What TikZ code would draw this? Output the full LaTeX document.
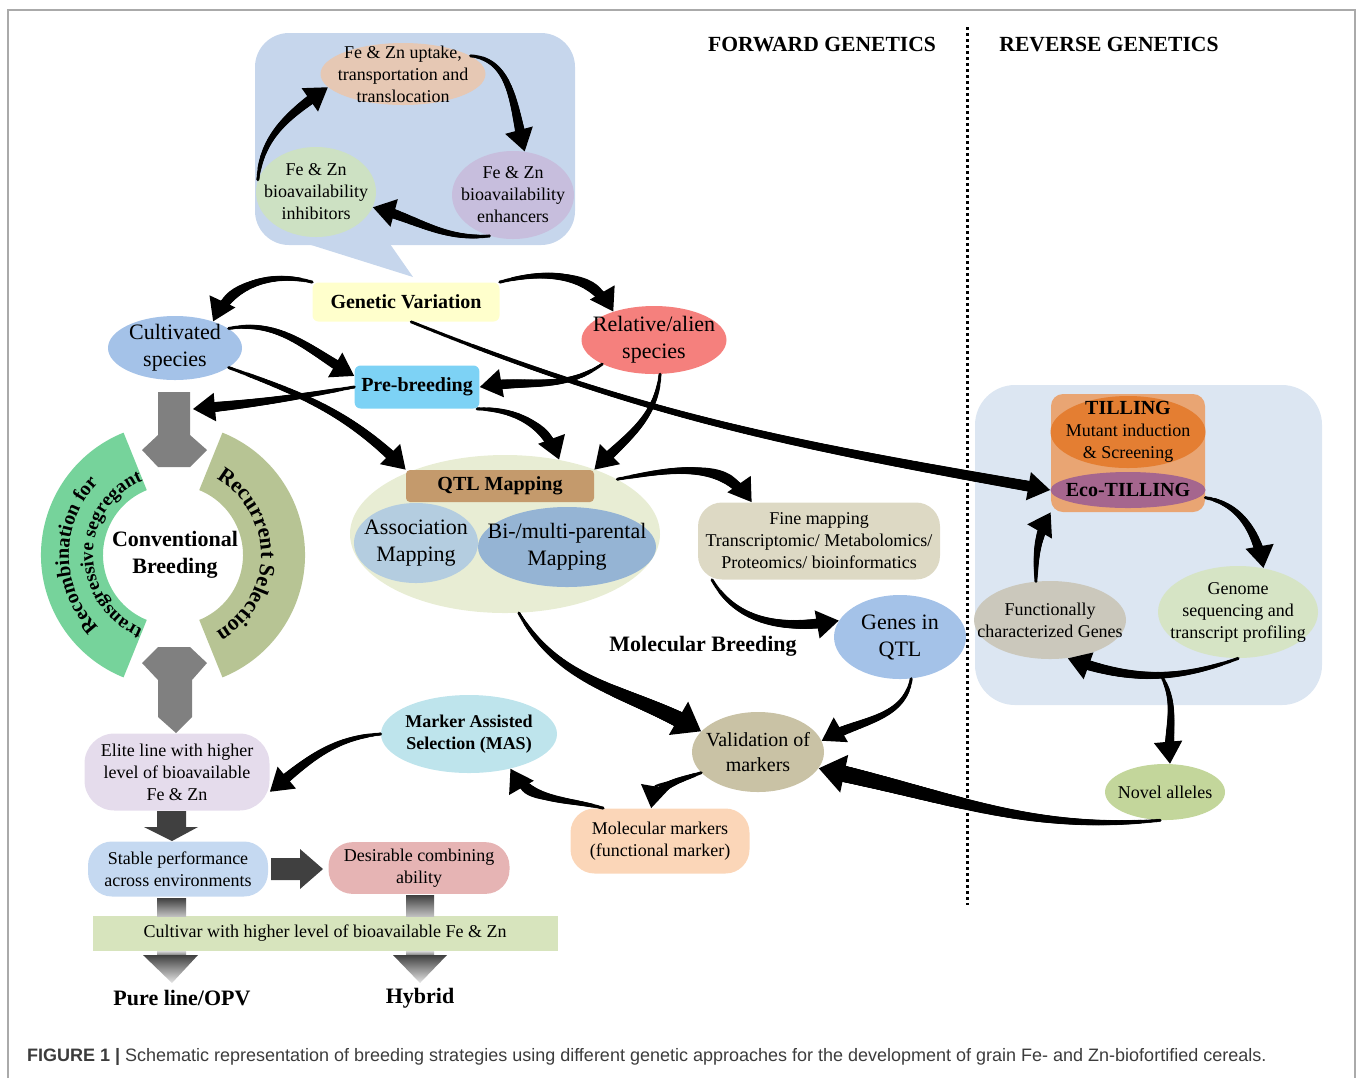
\documentclass[tikz,border=0pt]{standalone}
\usepackage{fontspec}
\setmainfont{Liberation Serif}
\setsansfont{Liberation Sans}
\usetikzlibrary{positioning,arrows.meta,shapes.geometric,decorations.text,decorations.markings,calc}

\definecolor{cFrame}{RGB}{170,170,170}
\definecolor{cCap}{RGB}{60,60,60}
\definecolor{cCallout}{RGB}{198,214,236}
\definecolor{cUptake}{RGB}{230,200,180}
\definecolor{cInhib}{RGB}{205,225,195}
\definecolor{cEnhance}{RGB}{199,190,221}
\definecolor{cGenVar}{RGB}{255,255,204}
\definecolor{cCult}{RGB}{164,194,232}
\definecolor{cRel}{RGB}{245,128,125}
\definecolor{cPre}{RGB}{125,210,245}
\definecolor{cQTLbg}{RGB}{232,237,212}
\definecolor{cQTL}{RGB}{196,154,108}
\definecolor{cAssoc}{RGB}{180,205,224}
\definecolor{cBi}{RGB}{149,180,212}
\definecolor{cFine}{RGB}{221,217,196}
\definecolor{cValid}{RGB}{201,194,165}
\definecolor{cMAS}{RGB}{190,228,236}
\definecolor{cMolMark}{RGB}{251,214,184}
\definecolor{cElite}{RGB}{229,220,236}
\definecolor{cStable}{RGB}{197,217,241}
\definecolor{cDesir}{RGB}{230,180,180}
\definecolor{cCultivar}{RGB}{215,228,189}
\definecolor{cRev}{RGB}{220,230,242}
\definecolor{cTillBox}{RGB}{233,165,115}
\definecolor{cTill}{RGB}{228,126,50}
\definecolor{cEco}{RGB}{165,102,142}
\definecolor{cFunc}{RGB}{203,200,188}
\definecolor{cGenome}{RGB}{214,228,197}
\definecolor{cNovel}{RGB}{195,214,155}
\definecolor{cGreenArc}{RGB}{118,211,155}
\definecolor{cOliveArc}{RGB}{183,196,148}
\definecolor{cBlock}{RGB}{128,128,128}
\definecolor{cDark}{RGB}{64,64,64}

\begin{document}
\begin{tikzpicture}[x=0.5pt,y=0.5pt,
  oval/.style 2 args={ellipse, minimum width=#1, minimum height=#2, inner sep=0pt},
  sm/.style={font=\fontsize{9}{11}\selectfont, align=center},
  lg/.style={font=\fontsize{11}{13.5}\selectfont, align=center},
  bd/.style={font=\bfseries\fontsize{10}{12}\selectfont, align=center},
  bdsm/.style={font=\bfseries\fontsize{9}{11}\selectfont, align=center},
  bdlg/.style={font=\bfseries\fontsize{11}{13.5}\selectfont, align=center},
  taper/.style 2 args={postaction={decorate, decoration={markings,
    mark=between positions 0 and #2 step 0.6pt with {\pgfmathsetmacro\tw{0.8+#1*\pgfkeysvalueof{/pgf/decoration/mark info/distance from start}/\pgfdecoratedpathlength}\fill (0,0) circle[radius=\tw pt];}}}},
  arr/.style={line width=1.2pt, -{Triangle[length=11pt,width=14pt]}, taper={2.0}{-9pt}},
  arrbig/.style={line width=1.2pt, -{Triangle[length=13pt,width=19pt]}, taper={3.6}{-11pt}}]
\useasboundingbox (0,0) rectangle (1358,-1078);
\draw[cFrame, line width=0.6pt] (8,-1078) -- (8,-10) -- (1355,-10) -- (1355,-1078);

% backgrounds
\fill[cCallout, rounded corners=17pt] (255,-33) rectangle (575,-245);
\fill[cCallout] (308,-244) -- (413,-277) -- (390,-244) -- cycle;
\fill[cRev, rounded corners=20pt] (975,-385) rectangle (1322,-705);
\draw[line width=1.5pt, dash pattern=on 1.5pt off 1.5pt] (967,-27) -- (967,-905);

\node[bd, font=\bfseries\fontsize{10.8}{13}\selectfont] (fwd) at (822,-45) {FORWARD GENETICS};
\node[bd, font=\bfseries\fontsize{10.8}{13}\selectfont] (rev) at (1109,-45) {REVERSE GENETICS};

% callout cycle
\node[oval={82.5pt}{31pt}, fill=cUptake, label={[sm]center:{Fe \& Zn uptake,\\transportation and\\translocation}}] (uptake) at (403,-74) {};
\node[oval={60pt}{45pt}, fill=cInhib, label={[sm]center:{Fe \& Zn\\bioavailability\\inhibitors}}] (inhib) at (316,-192) {};
\node[oval={61pt}{44pt}, fill=cEnhance, label={[sm]center:{Fe \& Zn\\bioavailability\\enhancers}}] (enhance) at (513,-195) {};

% forward genetics
\node[bd, fill=cGenVar, rounded corners=3pt, minimum width=93.5pt, minimum height=19.5pt] (genvar) at (406,-302) {Genetic Variation};
\node[oval={67pt}{32pt}, fill=cCult, label={[lg]center:{Cultivated\\species}}] (cult) at (175,-348) {};
\node[oval={72.5pt}{34pt}, fill=cRel, label={[lg]center:{Relative/alien\\species}}] (relat) at (654,-340) {};
\node[bd, fill=cPre, rounded corners=3pt, minimum width=60pt, minimum height=21.5pt] (prebreed) at (417,-387) {Pre-breeding};

\node[oval={155pt}{79pt}, fill=cQTLbg] (qtlbg) at (505,-534) {};
\node[bd, fill=cQTL, rounded corners=2pt, minimum width=94pt, minimum height=16pt] (qtl) at (500,-486) {QTL Mapping};
\node[oval={62pt}{40pt}, fill=cAssoc, label={[lg]center:{Association\\Mapping}}] (assoc) at (416,-543) {};
\node[oval={89pt}{40pt}, fill=cBi, label={[lg]center:{Bi-/multi-parental\\Mapping}}] (bimap) at (567,-547) {};

\node[sm, fill=cFine, rounded corners=12pt, minimum width=121pt, minimum height=38.5pt] (fine) at (819,-541) {Fine mapping\\Transcriptomic/ Metabolomics/\\Proteomics/ bioinformatics};
\node[oval={66pt}{42pt}, fill=cCult, label={[lg]center:{Genes in\\QTL}}] (genes) at (900,-637) {};
\node[bdlg] (molbreed) at (703,-646) {Molecular Breeding};
\node[oval={66pt}{40pt}, fill=cValid, label={[lg, font=\fontsize{10}{12.5}\selectfont]center:{Validation of\\markers}}] (valid) at (758,-752) {};
\node[oval={88pt}{39pt}, fill=cMAS, label={[bdsm]center:{Marker Assisted\\Selection (MAS)}}] (mas) at (469,-734) {};
\node[sm, fill=cMolMark, rounded corners=12pt, minimum width=89.5pt, minimum height=32.5pt] (molmark) at (660,-841) {Molecular markers\\(functional marker)};

% conventional breeding
\coordinate (cb) at (173,-555);
\fill[cGreenArc] ($(cb)+(112:132)$) arc[start angle=112, end angle=248, radius=132] -- ($(cb)+(248:70)$) arc[start angle=248, end angle=112, radius=70] -- cycle;
\fill[cOliveArc] ($(cb)+(68:132)$) arc[start angle=68, end angle=-68, radius=132] -- ($(cb)+(-68:70)$) arc[start angle=-68, end angle=68, radius=70] -- cycle;
\path[decorate, decoration={text along path, text align=center, text={|\bfseries\fontsize{10}{12}\selectfont|Recombination for}}] ($(cb)+(242:104)$) arc[start angle=242, end angle=118, radius=104];
\path[decorate, decoration={text along path, text align=center, text={|\bfseries\fontsize{9.5}{11}\selectfont|transgressive segregant}}] ($(cb)+(246:80)$) arc[start angle=246, end angle=114, radius=80];
\path[decorate, decoration={text along path, text align=center, text={|\bfseries\fontsize{11}{13}\selectfont|Recurrent Selection}}] ($(cb)+(64:88)$) arc[start angle=64, end angle=-64, radius=88];
\node[bdlg] (conv) at (175,-555) {Conventional\\Breeding};

\fill[cBlock] (158,-392) -- (190,-392) -- (190,-435) -- (207,-450) -- (190,-467) -- (158,-467) -- (142,-450) -- (158,-435) -- cycle;
\coordinate (stemhit) at (193,-409);
\fill[cBlock] (158,-647) -- (190,-647) -- (207,-663) -- (192,-680) -- (192,-717) -- (176,-733) -- (158,-717) -- (158,-680) -- (142,-663) -- cycle;

\node[sm, fill=cElite, rounded corners=15pt, minimum width=92.5pt, minimum height=38.5pt] (elite) at (177,-772) {Elite line with higher\\level of bioavailable\\Fe \& Zn};
\node[sm, fill=cStable, rounded corners=12pt, minimum width=90pt, minimum height=27.5pt] (stable) at (178,-869) {Stable performance\\across environments};
\node[sm, fill=cDesir, rounded corners=12pt, minimum width=90.5pt, minimum height=23.5pt] (desir) at (419,-868) {Desirable combining\\ability};
\node[sm, fill=cCultivar, minimum width=232.5pt, minimum height=17.5pt] (cultivar) at (325,-933) {Cultivar with higher level of bioavailable Fe \& Zn};
\node[bdlg] (pure) at (182,-998) {Pure line/OPV};
\node[bdlg] (hybrid) at (420,-998) {Hybrid};

\fill[cDark] (157,-811) -- (186,-811) -- (186,-827) -- (198,-827) -- (172,-841) -- (144,-827) -- (157,-827) -- cycle;
\fill[cDark] (271,-858) -- (300,-858) -- (300,-849) -- (323,-869) -- (300,-889) -- (300,-880) -- (271,-880) -- cycle;
\shade[top color=cDark, bottom color=cBlock!50] (157,-898) rectangle (186,-916);
\shade[top color=cDark, bottom color=cBlock!50] (406,-895) rectangle (434,-916);
\shade[top color=cBlock!30, bottom color=cBlock] (157,-951) rectangle (186,-955);
\shade[top color=cBlock!30, bottom color=cBlock] (406,-951) rectangle (434,-955);
\shade[top color=cDark, bottom color=cBlock!20] (143,-955) -- (198,-955) -- (172,-983) -- cycle;
\shade[top color=cDark, bottom color=cBlock!20] (393,-955) -- (447,-955) -- (420,-983) -- cycle;

% reverse genetics
\node[fill=cTillBox, rounded corners=6pt, minimum width=77pt, minimum height=59pt] (tillbox) at (1128,-453) {};
\node[oval={77.5pt}{36pt}, fill=cTill, label={[sm]center:{\textbf{\fontsize{10}{11}\selectfont TILLING}\\Mutant induction\\\& Screening}}] (till) at (1128,-432) {};
\node[oval={77.5pt}{18pt}, fill=cEco, label={[bd]center:{Eco-TILLING}}] (eco) at (1128,-490) {};
\node[oval={76pt}{39pt}, fill=cFunc, label={[sm]center:{Functionally\\characterized Genes}}] (func) at (1050,-620) {};
\node[oval={80pt}{46pt}, fill=cGenome, label={[sm]center:{Genome\\sequencing and\\transcript profiling}}] (genome) at (1238,-612) {};
\node[oval={60pt}{28pt}, fill=cNovel, label={[sm]center:{Novel alleles}}] (novel) at (1165,-792) {};

% arrows
\draw[arr] (inhib.168) to[out=85,in=215] (uptake.190);
\draw[arr] (uptake.15) to[out=-5,in=105] (enhance.75);
\draw[arr] (enhance.240) to[out=185,in=-15] (inhib.-15);

\draw[arr] (genvar.north west) to[out=165,in=65] (cult.35);
\draw[arr] (genvar.north east) to[out=15,in=120] (relat.145);
\draw[arr] (cult.20) to[out=10,in=150] (prebreed.170);
\draw[arr] (cult.-20) to[out=-20,in=135] (qtl.north west);
\draw[arr] (relat.205) to[out=215,in=10] (prebreed.east);
\draw[arr] (relat.-80) to[out=-95,in=45] (qtl.north east);
\draw[arr] (prebreed.west) to[out=190,in=5] (stemhit);
\draw[arr] (prebreed.-20) to[out=0,in=110] (qtlbg.54);
\draw[arr] (genvar.-75) to[out=-22,in=170] (eco.west);
\draw[arr] (qtlbg.26) to[out=10,in=125] (fine.150);
\draw[arr] (fine.200) to[out=-60,in=190] (genes.165);
\draw[arrbig] (qtlbg.-80) to[out=-60,in=150] (valid.160);
\draw[arr] (genes.-75) to[out=-100,in=30] (valid.10);
\draw[arr] (valid.200) to[out=200,in=80] (molmark.105);
\draw[arr] (molmark.150) to[out=165,in=-60] (mas.-40);
\draw[arr] (mas.west) to[out=185,in=40] (elite.-12);
\draw[arrbig] (novel.-100) to[out=185,in=-12] (valid.-15);

\draw[arr] (tillbox.-30) to[out=-10,in=100] (genome.60);
\draw[arr] (genome.-90) to[out=200,in=-20] coordinate[pos=0.45] (branch) (func.-65);
\draw[arr] (branch) to[out=-60,in=95] (novel.80);
\draw[arr] (func.110) to[out=90,in=240] (tillbox.south west);

% caption
\node[anchor=west, text=cCap, font=\sffamily\fontsize{9}{11}\selectfont] (caption) at (20,-1057) {\textbf{FIGURE 1 |} Schematic representation of breeding strategies using different genetic approaches for the development of grain Fe- and Zn-biofortified cereals.};
\end{tikzpicture}
\end{document}
